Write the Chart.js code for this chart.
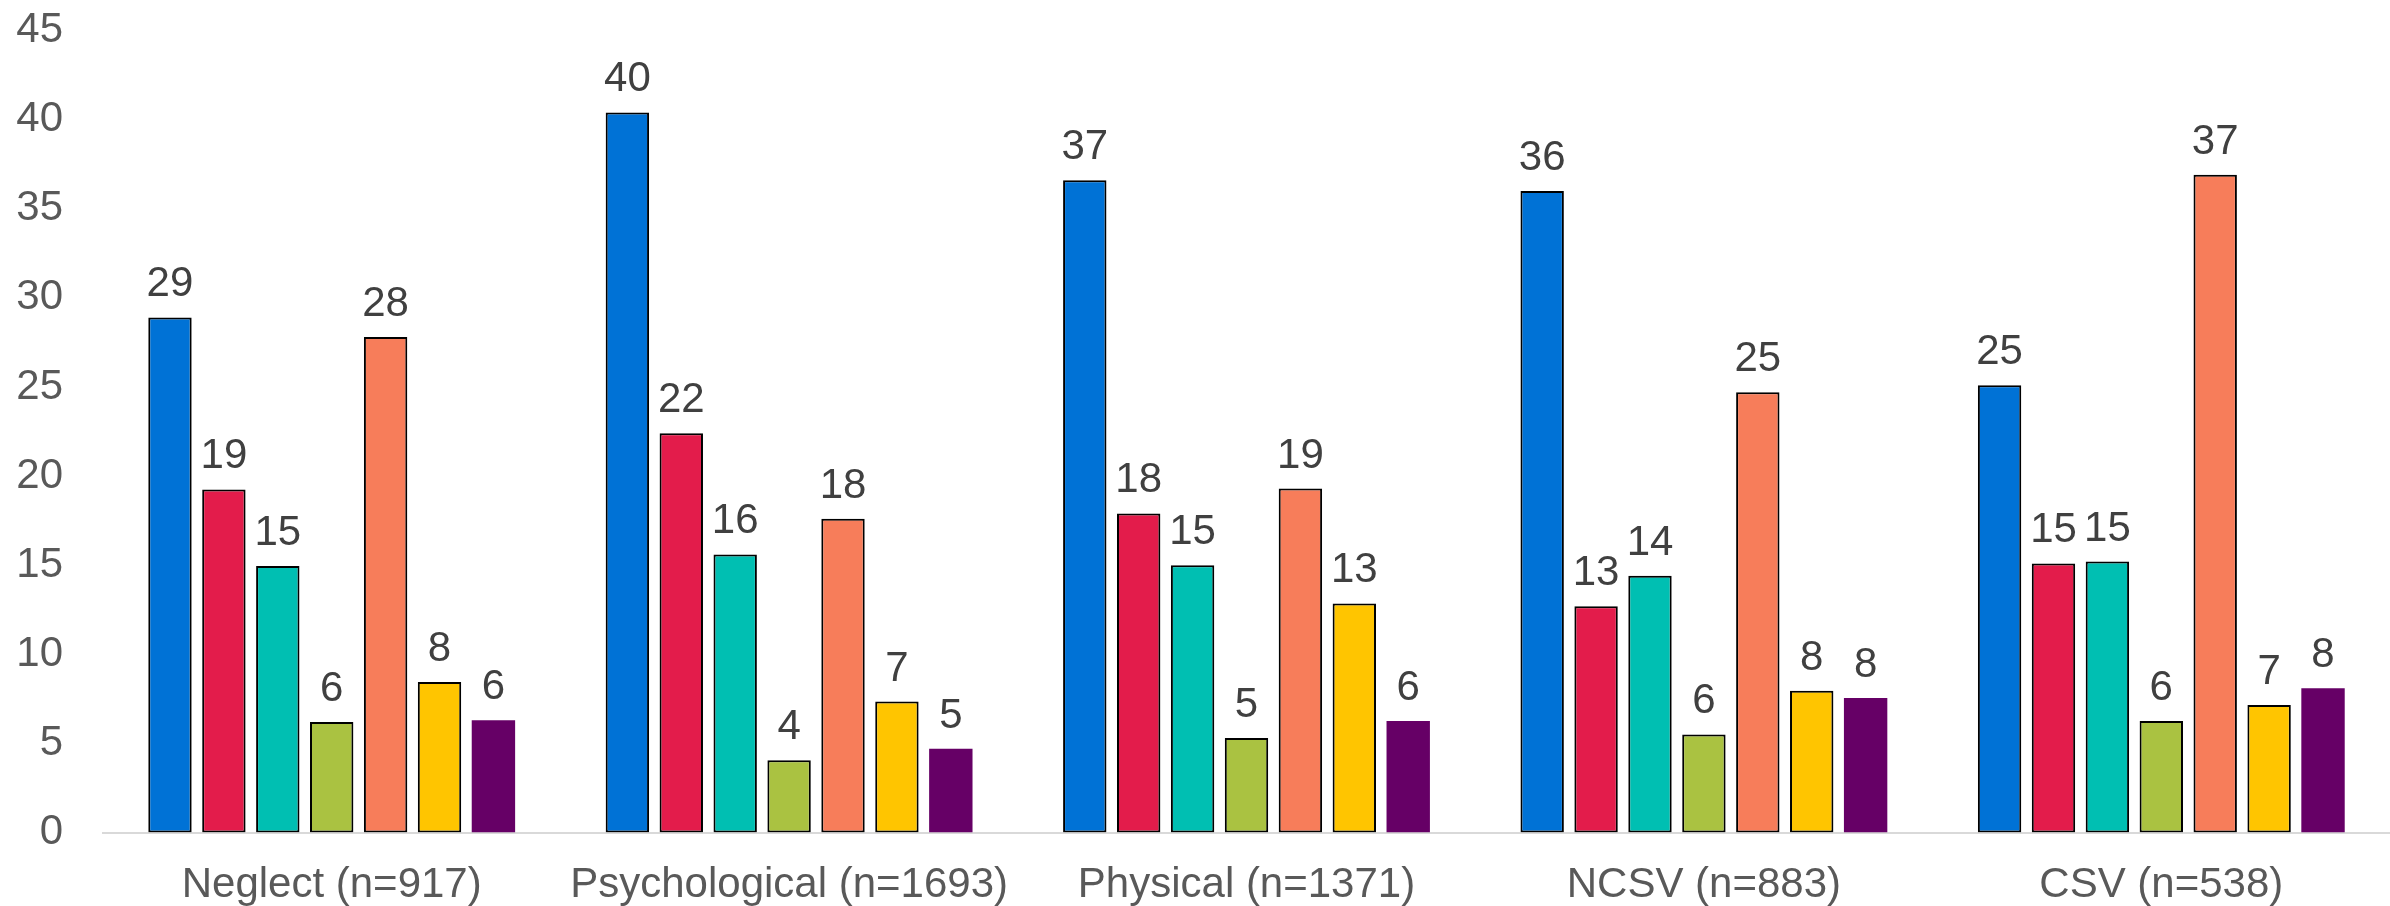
<!DOCTYPE html>
<html>
<head>
<meta charset="utf-8">
<script src="https://cdn.jsdelivr.net/npm/chart.js@4.4.1/dist/chart.umd.min.js"></script>
<style>
  html, body { margin: 0; padding: 0; background: #ffffff; }
  #wrap { position: relative; width: 2390px; height: 906px; }
</style>
</head>
<body>
<div id="wrap"><canvas id="c" width="2390" height="906"></canvas></div>
<script>
const categories = ['Neglect (n=917)', 'Psychological (n=1693)', 'Physical (n=1371)', 'NCSV (n=883)', 'CSV (n=538)'];
const seriesBlue   = [28.9, 40.4, 36.6, 36.0, 25.1];
const seriesRed    = [19.25, 22.4, 17.9, 12.7, 15.1];
const seriesTeal   = [14.95, 15.6, 15.0, 14.4, 15.2];
const seriesGreen  = [6.2, 4.05, 5.3, 5.5, 6.25];
const seriesOrange = [27.8, 17.6, 19.3, 24.7, 36.9];
const seriesYellow = [8.45, 7.35, 12.85, 7.95, 7.15];
const seriesPurple = [6.3, 4.7, 6.25, 7.55, 8.1];
const yTicks = [0, 5, 10, 15, 20, 25, 30, 35, 40, 45];

const FONT = "'Liberation Sans', Arial, sans-serif";

function ds(data, color, border) {
  return {
    data: data,
    backgroundColor: color,
    borderColor: border ? '#000000' : color,
    borderWidth: border ? 2 : 0,
    borderSkipped: false,
    categoryPercentage: 0.825,
    barPercentage: 0.805
  };
}

const valueLabels = {
  id: 'valueLabels',
  afterDatasetsDraw(chart) {
    const ctx = chart.ctx;
    ctx.save();
    ctx.font = '42px ' + FONT;
    ctx.fillStyle = '#404040';
    ctx.textAlign = 'center';
    ctx.textBaseline = 'alphabetic';
    chart.data.datasets.forEach((d, i) => {
      const meta = chart.getDatasetMeta(i);
      meta.data.forEach((bar, j) => {
        ctx.fillText(String(Math.round(d.data[j])), bar.x, bar.y - 21);
      });
    });
    ctx.restore();
  }
};

new Chart(document.getElementById('c'), {
  type: 'bar',
  data: {
    labels: categories,
    datasets: [
      ds(seriesBlue, '#0072d6', true),
      ds(seriesRed, '#e31c4b', true),
      ds(seriesTeal, '#00bfb2', true),
      ds(seriesGreen, '#aac241', true),
      ds(seriesOrange, '#f77d5a', true),
      ds(seriesYellow, '#ffc500', true),
      ds(seriesPurple, '#660066', false)
    ]
  },
  options: {
    responsive: false,
    animation: false,
    layout: { padding: { top: 0, right: 0, bottom: 0, left: 0 } },
    plugins: { legend: { display: false }, tooltip: { enabled: false } },
    scales: {
      x: {
        grid: { display: false, drawTicks: false },
        border: { display: true, color: '#d9d9d9', width: 2 },
        ticks: { color: '#595959', font: { family: FONT, size: 42 }, padding: 28, maxRotation: 0, autoSkip: false },
        afterFit(scale) { scale.height = 73.5; scale.paddingLeft = 0; scale.paddingRight = 0; }
      },
      y: {
        min: 0, max: 45,
        grid: { display: false, drawTicks: false },
        border: { display: false },
        afterBuildTicks(scale) { scale.ticks = yTicks.map(v => ({ value: v })); },
        ticks: { color: '#595959', font: { family: FONT, size: 42, lineHeight: 1.1 }, padding: 40 },
        afterFit(scale) { scale.width = 103; scale.paddingTop = 30.5; scale.paddingBottom = 0; }
      }
    }
  },
  plugins: [valueLabels]
});
</script>
</body>
</html>
